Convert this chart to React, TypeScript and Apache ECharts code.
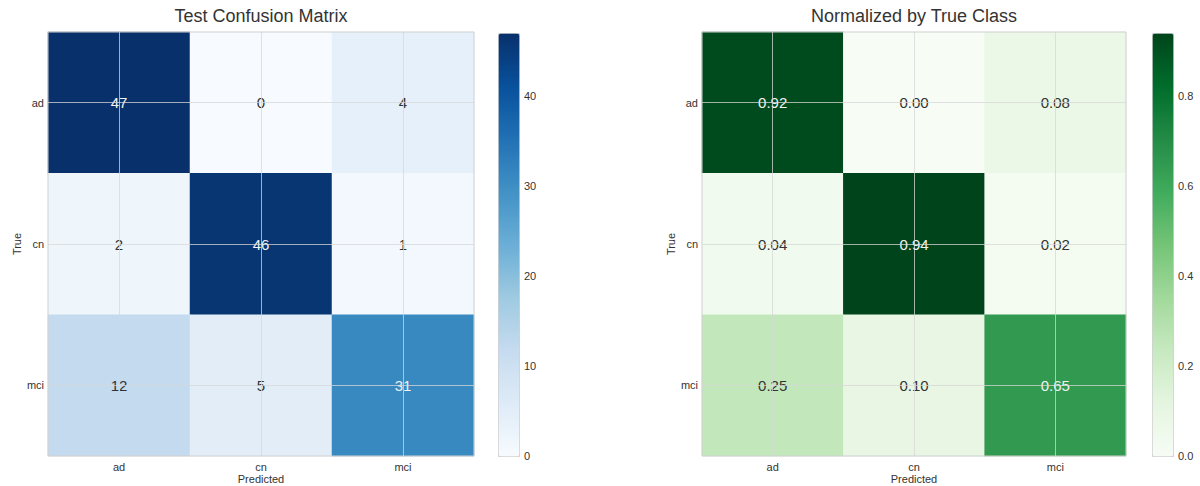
import React, { useEffect, useRef } from "react";
import * as echarts from "echarts";

const classes = ["ad", "cn", "mci"];
const counts = [
  [47, 0, 4],
  [2, 46, 1],
  [12, 5, 31],
];
const normalized = [
  [0.92, 0.0, 0.08],
  [0.04, 0.94, 0.02],
  [0.25, 0.1, 0.65],
];
const countMax = 47;
const normMax = 0.94;
const countTickStep = 10;
const normTickStep = 0.2;

const blues = ["#f7fbff", "#deebf7", "#c6dbef", "#9ecae1", "#6baed6", "#4292c6", "#2171b5", "#08519c", "#08306b"];
const greens = ["#f7fcf5", "#e5f5e0", "#c7e9c0", "#a1d99b", "#74c476", "#41ab5d", "#238b45", "#006d2c", "#00441b"];

const FONT = "'Liberation Sans', Arial, Helvetica, sans-serif";
const TXT = "#333333";

const L1 = { left: 48, top: 32, width: 426, height: 424 };
const L2 = { left: 702, top: 32, width: 424, height: 424 };
const C1 = { left: 498, top: 33, width: 21, height: 423 };
const C2 = { left: 1152, top: 33, width: 21, height: 423 };

function cells(matrix: number[][], max: number) {
  const out: any[] = [];
  matrix.forEach((row, r) =>
    row.forEach((v, c) => {
      out.push({
        value: [c, r, v],
        label: { color: v > max / 2 ? "#f2f2f2" : TXT },
      });
    })
  );
  return out;
}

function gridLines() {
  return {
    silent: true,
    symbol: ["none", "none"],
    label: { show: false },
    lineStyle: { type: "solid", color: "rgba(215,215,215,0.75)", width: 1 },
    emphasis: { disabled: true },
    data: [
      ...classes.map((c) => ({ xAxis: c })),
      ...classes.map((c) => ({ yAxis: c })),
    ],
  };
}

function catX(gi: number) {
  return {
    type: "category",
    gridIndex: gi,
    data: classes,
    axisLine: { show: false },
    axisTick: { show: false },
    splitLine: { show: false },
    axisLabel: { fontSize: 11, color: TXT, margin: 5, fontFamily: FONT },
    name: "Predicted",
    nameLocation: "middle",
    nameGap: 17,
    nameMoveOverlap: false,
    nameTextStyle: { fontSize: 11, lineHeight: 11, color: TXT, fontFamily: FONT },
  };
}
function catY(gi: number) {
  return {
    type: "category",
    gridIndex: gi,
    data: classes,
    inverse: true,
    axisLine: { show: false },
    axisTick: { show: false },
    splitLine: { show: false },
    axisLabel: { fontSize: 11, color: TXT, margin: 4, fontFamily: FONT },
    name: "True",
    nameLocation: "middle",
    nameGap: 26,
    nameMoveOverlap: false,
    nameTextStyle: { fontSize: 11, color: TXT, fontFamily: FONT },
  };
}
function barY(gi: number, max: number, step: number, digits: number) {
  return {
    type: "value",
    gridIndex: gi,
    min: 0,
    max: max,
    interval: step,
    position: "right",
    axisLine: { show: false },
    axisTick: { show: false },
    splitLine: { show: false },
    axisLabel: {
      fontSize: 11,
      color: TXT,
      margin: 5,
      fontFamily: FONT,
      showMaxLabel: false,
      formatter: (v: number) => v.toFixed(digits),
    },
  };
}

export default function App() {
  const ref = useRef<HTMLDivElement>(null);
  useEffect(() => {
    if (!ref.current) return;
    const chart = echarts.init(ref.current, null, { renderer: "svg" });
    chart.setOption({
      animation: false,
      backgroundColor: "#ffffff",
      textStyle: { fontFamily: FONT },
      title: [
        {
          text: "Test Confusion Matrix",
          left: L1.left + L1.width / 2,
          top: 7,
          textAlign: "center",
          padding: 0,
          textStyle: { fontSize: 18, fontWeight: "normal", color: TXT, fontFamily: FONT },
        },
        {
          text: "Normalized by True Class",
          left: L2.left + L2.width / 2,
          top: 7,
          textAlign: "center",
          padding: 0,
          textStyle: { fontSize: 18, fontWeight: "normal", color: TXT, fontFamily: FONT },
        },
      ],
      grid: [
        { ...L1, containLabel: false, outerBoundsMode: "none" },
        { ...L2, containLabel: false, outerBoundsMode: "none" },
        { ...C1, containLabel: false, outerBoundsMode: "none" },
        { ...C2, containLabel: false, outerBoundsMode: "none" },
      ],
      xAxis: [
        catX(0),
        catX(1),
        { type: "value", gridIndex: 2, show: false },
        { type: "value", gridIndex: 3, show: false },
      ],
      yAxis: [
        catY(0),
        catY(1),
        barY(2, countMax, countTickStep, 0),
        barY(3, normMax, normTickStep, 1),
      ],
      visualMap: [
        {
          type: "continuous",
          seriesIndex: 0,
          dimension: 2,
          min: 0,
          max: countMax,
          inRange: { color: blues },
          left: C1.left,
          top: C1.top,
          itemWidth: C1.width,
          itemHeight: C1.height,
          calculable: false,
          hoverLink: false,
          padding: 0,
          text: ["", ""],
          borderColor: "#d0d0d0",
          borderWidth: 1,
        },
        {
          type: "continuous",
          seriesIndex: 1,
          dimension: 2,
          min: 0,
          max: normMax,
          inRange: { color: greens },
          left: C2.left,
          top: C2.top,
          itemWidth: C2.width,
          itemHeight: C2.height,
          calculable: false,
          hoverLink: false,
          padding: 0,
          text: ["", ""],
          borderColor: "#d0d0d0",
          borderWidth: 1,
        },
      ],
      series: [
        {
          type: "heatmap",
          xAxisIndex: 0,
          yAxisIndex: 0,
          data: cells(counts, countMax),
          label: {
            show: true,
            fontSize: 15,
            fontFamily: FONT,
            formatter: (p: any) => String(p.value[2]),
          },
          emphasis: { disabled: true },
          markLine: gridLines(),
        },
        {
          type: "heatmap",
          xAxisIndex: 1,
          yAxisIndex: 1,
          data: cells(normalized, normMax),
          label: {
            show: true,
            fontSize: 15,
            fontFamily: FONT,
            formatter: (p: any) => Number(p.value[2]).toFixed(2),
          },
          emphasis: { disabled: true },
          markLine: gridLines(),
        },
      ],
      graphic: [
        {
          type: "rect",
          z: 100,
          silent: true,
          shape: { x: L1.left, y: L1.top, width: L1.width, height: L1.height },
          style: { fill: "none", stroke: "#d0d0d0", lineWidth: 1 },
        },
        {
          type: "rect",
          z: 100,
          silent: true,
          shape: { x: L2.left, y: L2.top, width: L2.width, height: L2.height },
          style: { fill: "none", stroke: "#d0d0d0", lineWidth: 1 },
        },
      ],
    });
    return () => chart.dispose();
  }, []);
  return (
    <div
      ref={ref}
      style={{ position: "fixed", left: 0, top: 0, width: 1200, height: 486 }}
    />
  );
}
